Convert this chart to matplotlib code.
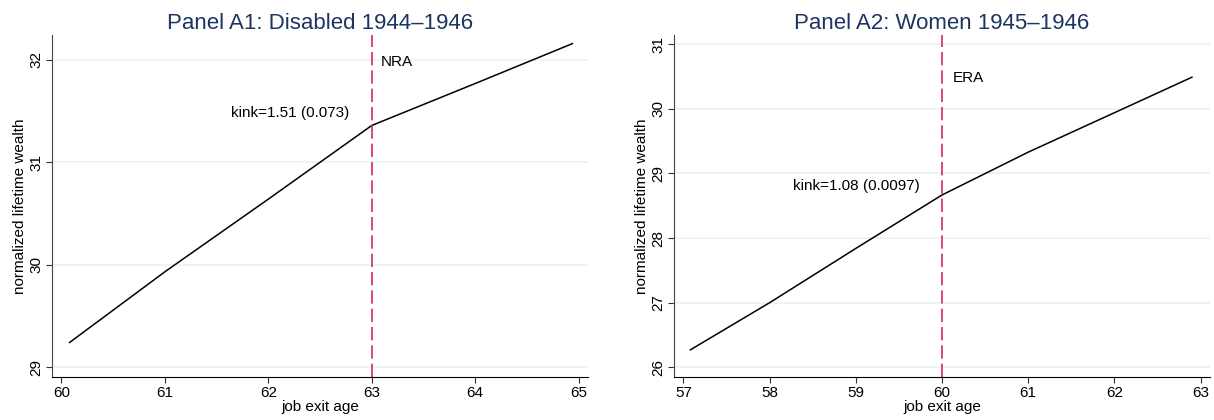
import matplotlib
matplotlib.use('Agg')
import matplotlib.pyplot as plt

plt.rcParams['font.family'] = ['Liberation Sans', 'DejaVu Sans']

# Panel A1: Disabled 1944-1946
age_a1 = [60.08, 61.0, 62.0, 63.0, 64.0, 64.94]
wealth_a1 = [29.24, 29.93, 30.64, 31.36, 31.77, 32.16]
xticks_a1 = [60, 61, 62, 63, 64, 65]
yticks_a1 = [29, 30, 31, 32]
kink_a1 = 63
# Panel A2: Women 1945-1946
age_a2 = [57.08, 58.0, 59.0, 60.0, 61.0, 62.0, 62.9]
wealth_a2 = [26.27, 27.0, 27.84, 28.667, 29.33, 29.94, 30.49]
xticks_a2 = [57, 58, 59, 60, 61, 62, 63]
yticks_a2 = [26, 27, 28, 29, 30, 31]
kink_a2 = 60

panels = [
    dict(title='Panel A1: Disabled 1944\u20131946', x=age_a1, y=wealth_a1,
         xt=xticks_a1, yt=yticks_a1, kink=kink_a1, xlim=(59.91, 65.09), ylim=(28.90, 32.244),
         ktext='kink=1.51 (0.073)', kpos=(62.78, 31.48), vtext='NRA', vpos=(63.09, 31.98),
         rect=[52/1214, 0.1017, 536/1214, 0.815]),
    dict(title='Panel A2: Women 1945\u20131946', x=age_a2, y=wealth_a2,
         xt=xticks_a2, yt=yticks_a2, kink=kink_a2, xlim=(56.89, 63.11), ylim=(25.845, 31.144),
         ktext='kink=1.08 (0.0097)', kpos=(59.74, 28.80), vtext='ERA', vpos=(60.12, 30.48),
         rect=[674/1214, 0.1017, 536/1214, 0.815]),
]

fig = plt.figure(figsize=(12.14, 4.2), dpi=100)
for p in panels:
    ax = fig.add_axes(p['rect'])
    ax.set_xlim(p['xlim'])
    ax.set_ylim(p['ylim'])
    ax.set_xticks(p['xt'])
    ax.set_yticks(p['yt'])
    ax.grid(axis='y', color='#eaf2f3', linewidth=1.2)
    ax.set_axisbelow(True)
    ax.plot(p['x'], p['y'], color='black', linewidth=1.1)
    ax.axvline(p['kink'], color='#d42a55', linewidth=1.2, linestyle=(0, (8, 3)))
    ax.text(p['kpos'][0], p['kpos'][1], p['ktext'], ha='right', va='center', fontsize=11)
    ax.text(p['vpos'][0], p['vpos'][1], p['vtext'], ha='left', va='center', fontsize=11)
    ax.spines['top'].set_visible(False)
    ax.spines['right'].set_visible(False)
    ax.spines['left'].set_color('#444444')
    ax.tick_params(axis='both', labelsize=11, length=4, direction='out', color='#333333', pad=2)
    for lbl in ax.get_yticklabels():
        lbl.set_rotation(90)
        lbl.set_va('center')
    ax.set_xlabel('job exit age', fontsize=11, labelpad=0)
    ax.set_ylabel('normalized lifetime wealth', fontsize=11, labelpad=2)
    ax.set_title(p['title'], fontsize=16, color='#1e3461', pad=4)

fig.savefig('out.png', dpi=100)
